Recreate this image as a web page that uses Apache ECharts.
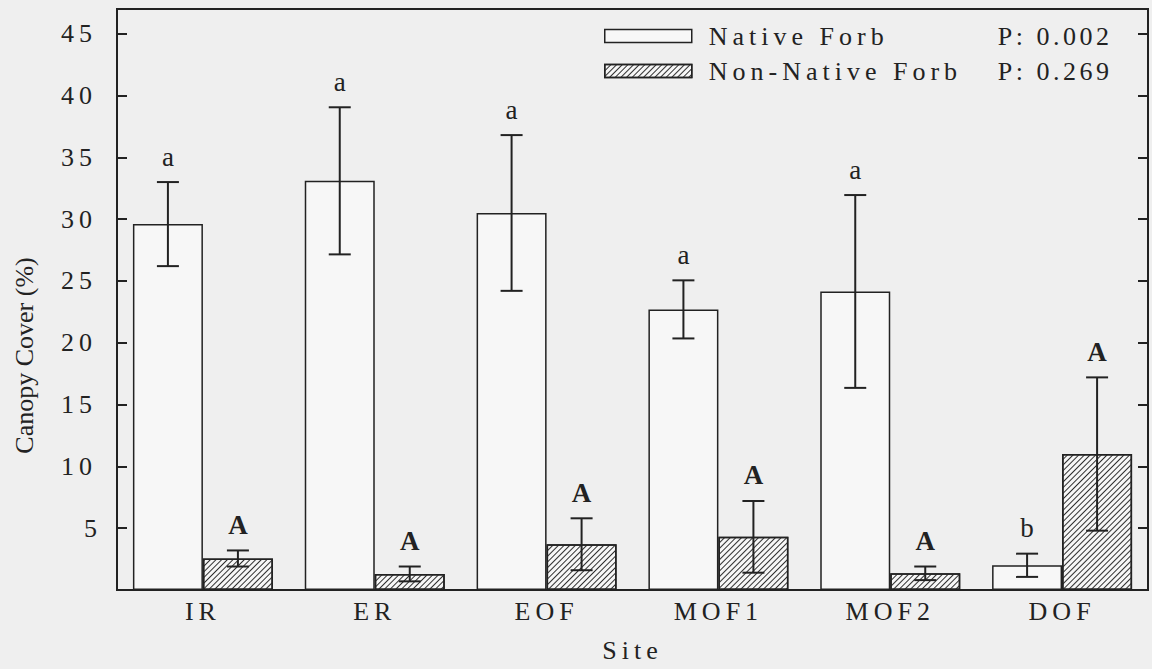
<!DOCTYPE html>
<html><head><meta charset="utf-8">
<script src="https://cdn.jsdelivr.net/npm/echarts@6/dist/echarts.min.js"></script>
<style>html,body{margin:0;padding:0;background:#efefef}#chart{width:1152px;height:669px}</style>
</head><body><div id="chart"></div>
<script>
// ---- data ----
const categories = ['IR', 'ER', 'EOF', 'MOF1', 'MOF2', 'DOF'];
const seriesNames = ['Native Forb', 'Non-Native Forb'];
const pValues = ['P: 0.002', 'P: 0.269'];
const nativeMean = [29.6, 33.1, 30.5, 22.7, 24.15, 2.0];
const nativeErr = [3.4, 5.95, 6.3, 2.35, 7.8, 0.94];
const nonNativeMean = [2.55, 1.3, 3.7, 4.3, 1.35, 11.0];
const nonNativeErr = [0.65, 0.6, 2.1, 2.9, 0.55, 6.2];
const nativeLetters = ['a', 'a', 'a', 'a', 'a', 'b'];
const nonNativeLetters = ['A', 'A', 'A', 'A', 'A', 'A'];
const yMin = 0, yMax = 47, yInterval = 5;
const xTitle = 'Site';
const yTitle = 'Canopy Cover (%)';

// ---- styling ----
const INK = '#222222';
const FONT = "'Liberation Serif', 'Times New Roman', serif";
const FS = 26;
const BAR_W = 70;
const BAR_FILL = '#f7f7f7';
const hatch = {
  symbol: 'rect', symbolSize: 1, dashArrayX: [1, 0], dashArrayY: [1, 3],
  rotation: -Math.PI / 4, color: '#2f2f2f'
};

function errRender(side, letters, bold) {
  return function (params, api) {
    const i = api.value(0), m = api.value(1), e = api.value(2);
    const top = api.coord([i, m + e]);
    const bot = api.coord([i, m - e]);
    const x = top[0] + side * BAR_W / 2;
    const st = { stroke: INK, lineWidth: 2 };
    return {
      type: 'group',
      children: [
        { type: 'line', shape: { x1: x, y1: top[1], x2: x, y2: bot[1] }, style: st },
        { type: 'line', shape: { x1: x - 11, y1: top[1], x2: x + 11, y2: top[1] }, style: st },
        { type: 'line', shape: { x1: x - 11, y1: bot[1], x2: x + 11, y2: bot[1] }, style: st },
        { type: 'text', x: x, y: top[1] - 12,
          style: { text: letters[params.dataIndex], align: 'center', verticalAlign: 'bottom',
                   font: (bold ? 'bold ' : '') + (FS + 1) + 'px ' + FONT, fill: INK } }
      ]
    };
  };
}

const chart = echarts.init(document.getElementById('chart'), null, { renderer: 'svg' });
const yAxisBase = {
  type: 'value', min: yMin, max: yMax, interval: yInterval,
  splitLine: { show: false },
  axisLine: { show: true, lineStyle: { color: INK, width: 2 } },
  axisTick: { show: true, inside: true, length: 10, lineStyle: { color: INK, width: 2 } }
};
chart.setOption({
  animation: false,
  backgroundColor: '#efefef',
  grid: { left: 117, right: 4, top: 9, bottom: 79, show: true, borderColor: INK, borderWidth: 2, backgroundColor: 'transparent' },
  legend: {
    orient: 'vertical', left: 599, top: 18, itemWidth: 87, itemHeight: 13, itemGap: 9,
    icon: 'rect', selectedMode: false,
    data: [
      { name: seriesNames[0], itemStyle: { color: BAR_FILL, borderColor: INK, borderWidth: 1.5 } },
      { name: seriesNames[1], itemStyle: { color: BAR_FILL, borderColor: INK, borderWidth: 1.5, decal: hatch } }
    ],
    formatter: function (name) { return '{n|' + name + '}{p|' + pValues[seriesNames.indexOf(name)] + '}'; },
    textStyle: {
      color: INK, fontFamily: FONT, fontSize: FS,
      rich: {
        n: { width: 289, padding: [0, 0, 0, 12], fontFamily: FONT, fontSize: FS, lineHeight: 26, color: INK },
        p: { fontFamily: FONT, fontSize: FS, lineHeight: 26, color: INK }
      }
    }
  },
  xAxis: {
    type: 'category', data: categories,
    axisLine: { show: true, lineStyle: { color: INK, width: 2 } },
    axisTick: { show: false },
    axisLabel: { color: INK, fontFamily: FONT, fontSize: FS, margin: 8 },
    name: xTitle, nameLocation: 'middle', nameGap: 47,
    nameTextStyle: { color: INK, fontFamily: FONT, fontSize: FS }
  },
  yAxis: [
    Object.assign({}, yAxisBase, {
      position: 'left',
      axisLabel: { color: INK, fontFamily: FONT, fontSize: FS, margin: 20,
        formatter: function (v) { return (v > 0 && v % yInterval === 0) ? String(v) : ''; } },
      name: yTitle, nameLocation: 'middle', nameGap: 80,
      nameTextStyle: { color: INK, fontFamily: FONT, fontSize: FS, padding: [0, 112, 0, 0] }
    }),
    Object.assign({}, yAxisBase, { position: 'right', axisLabel: { show: false } })
  ],
  series: [
    { name: seriesNames[0], type: 'bar', data: nativeMean, barWidth: BAR_W, barGap: '0%',
      itemStyle: { color: BAR_FILL, borderColor: INK, borderWidth: 1.5 } },
    { name: seriesNames[1], type: 'bar', data: nonNativeMean, barWidth: BAR_W, barGap: '0%',
      itemStyle: { color: BAR_FILL, borderColor: INK, borderWidth: 1.5, decal: hatch } },
    { type: 'custom', z: 10, renderItem: errRender(-1, nativeLetters, false),
      data: categories.map(function (c, i) { return [i, nativeMean[i], nativeErr[i]]; }) },
    { type: 'custom', z: 10, renderItem: errRender(1, nonNativeLetters, true),
      data: categories.map(function (c, i) { return [i, nonNativeMean[i], nonNativeErr[i]]; }) }
  ]
});

function applySpacing() {
  document.querySelectorAll('#chart svg text').forEach(function (t) {
    const s = t.textContent;
    if (s === yTitle || s.length <= 1) return;
    t.setAttribute('letter-spacing', s.indexOf('P:') === 0 ? '3.5' : '5');
  });
}
chart.on('finished', applySpacing);
setTimeout(applySpacing, 50);
setTimeout(applySpacing, 300);
</script>
</body></html>
